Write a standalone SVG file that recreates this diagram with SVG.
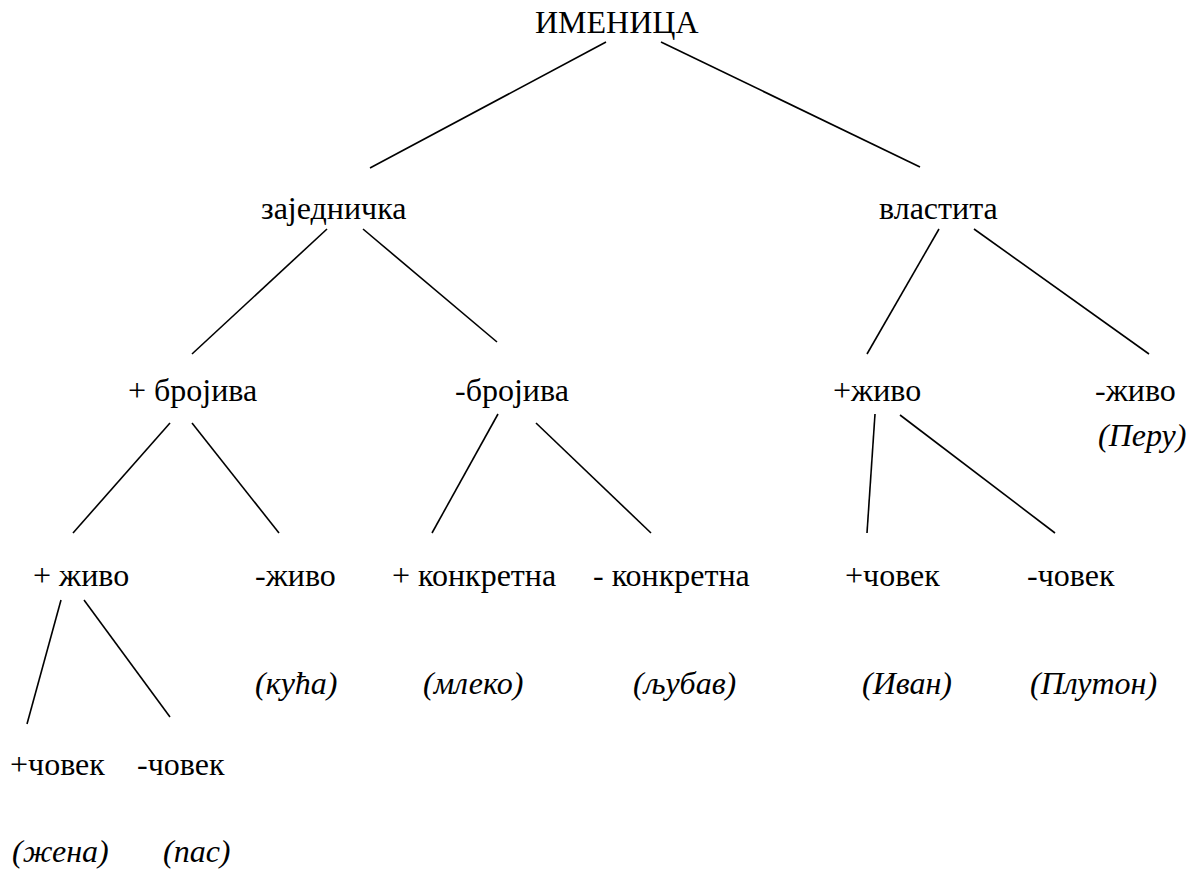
<svg xmlns="http://www.w3.org/2000/svg" width="1195" height="890" viewBox="0 0 1195 890">
<style>
text{font-family:"Liberation Serif","Times New Roman",serif;font-size:32px;fill:#000}
.ex{font-style:italic}
#edges line{stroke:#000;stroke-width:1.6}
</style>
<rect width="1195" height="890" fill="#fff"/>
<g id="edges">
<line x1="606" y1="42" x2="370" y2="168"/>
<line x1="661" y1="42" x2="920" y2="167"/>
<line x1="327" y1="229" x2="192" y2="354"/>
<line x1="363" y1="229" x2="497" y2="342"/>
<line x1="939" y1="229" x2="867" y2="354"/>
<line x1="974" y1="229" x2="1149" y2="354"/>
<line x1="170" y1="423" x2="73" y2="533"/>
<line x1="192" y1="423" x2="279" y2="533"/>
<line x1="498" y1="414" x2="432" y2="533"/>
<line x1="536" y1="423" x2="651" y2="533"/>
<line x1="875" y1="414" x2="867" y2="533"/>
<line x1="900" y1="415" x2="1055" y2="533"/>
<line x1="61" y1="600" x2="27" y2="724"/>
<line x1="84" y1="600" x2="170" y2="717"/>
</g>
<g id="n-imenica"><text x="535" y="33">ИМЕНИЦА</text></g>
<g id="n-zajednicka"><text x="261" y="219">заједничка</text></g>
<g id="n-vlastita"><text x="879" y="219">властита</text></g>
<g id="n-brojiva-plus"><text x="128" y="401">+ бројива</text></g>
<g id="n-brojiva-minus"><text x="455" y="401">-бројива</text></g>
<g id="n-vl-zivo-plus"><text x="833" y="401">+живо</text></g>
<g id="n-vl-zivo-minus"><text x="1095" y="401">-живо</text><text class="ex" x="1098" y="446">(Перу)</text></g>
<g id="n-zivo-plus"><text x="33" y="586">+ живо</text></g>
<g id="n-zivo-minus"><text x="255" y="586">-живо</text><text class="ex" x="255" y="694">(кућа)</text></g>
<g id="n-konk-plus"><text x="392" y="586">+ конкретна</text><text class="ex" x="423" y="694">(млеко)</text></g>
<g id="n-konk-minus"><text x="593" y="586">- конкретна</text><text class="ex" x="633" y="694">(љубав)</text></g>
<g id="n-vl-covek-plus"><text x="845" y="586">+човек</text><text class="ex" x="862" y="694">(Иван)</text></g>
<g id="n-vl-covek-minus"><text x="1027" y="586">-човек</text><text class="ex" x="1030" y="694">(Плутон)</text></g>
<g id="n-covek-plus"><text x="10" y="775">+човек</text><text class="ex" x="12" y="862">(жена)</text></g>
<g id="n-covek-minus"><text x="137" y="775">-човек</text><text class="ex" x="163" y="862">(пас)</text></g>
</svg>
